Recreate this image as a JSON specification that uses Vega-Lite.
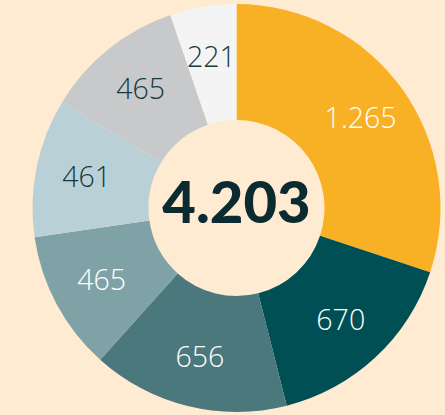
{
  "$schema": "https://vega.github.io/schema/vega-lite/v6.json",
  "autosize": {"type": "fit", "contains": "padding"},
  "width": 445,
  "height": 415,
  "padding": {"left": 28, "right": 0, "top": 1, "bottom": 0},
  "background": "#FEEBD1",
  "view": {"stroke": null},
  "layer": [
    {
      "data": {"values": [
        {"k": "a", "o": 1, "v": 1265, "lab": "1.265", "tc": "light"},
        {"k": "b", "o": 2, "v": 670, "lab": "670", "tc": "light"},
        {"k": "c", "o": 3, "v": 656, "lab": "656", "tc": "light"},
        {"k": "d", "o": 4, "v": 465, "lab": "465", "tc": "light"},
        {"k": "e", "o": 5, "v": 461, "lab": "461", "tc": "darktext"},
        {"k": "f", "o": 6, "v": 465, "lab": "465", "tc": "darktext"},
        {"k": "g", "o": 7, "v": 221, "lab": "221", "tc": "darktext"}
      ]},
      "encoding": {
        "theta": {"field": "v", "type": "quantitative", "stack": true},
        "order": {"field": "o", "type": "quantitative"}
      },
      "resolve": {"scale": {"color": "independent"}},
      "layer": [
        {
          "mark": {"type": "arc", "radius": 204, "radius2": 88},
          "encoding": {
            "color": {
              "field": "k", "type": "nominal", "legend": null,
              "scale": {
                "domain": ["a", "b", "c", "d", "e", "f", "g"],
                "range": ["#F8B124", "#004F55", "#4A787C", "#7FA2A7", "#B9D1D6", "#C8C9CB", "#F4F4F4"]
              }
            }
          }
        },
        {
          "mark": {"type": "text", "radius": 153, "fontSize": 28.5, "font": "Open Sans", "fontWeight": 300, "dy": 1},
          "encoding": {
            "text": {"field": "lab"},
            "color": {
              "field": "tc", "type": "nominal", "legend": null,
              "scale": {"domain": ["light", "darktext"], "range": ["#FFFFFF", "#173A3F"]}
            }
          }
        }
      ]
    },
    {
      "data": {"values": [{"t": "4.203"}]},
      "mark": {"type": "text", "fontSize": 58, "font": "Lato", "fontWeight": 900, "color": "#0B2B30", "baseline": "middle", "align": "center", "dy": -2},
      "encoding": {"text": {"field": "t"}}
    }
  ]
}
